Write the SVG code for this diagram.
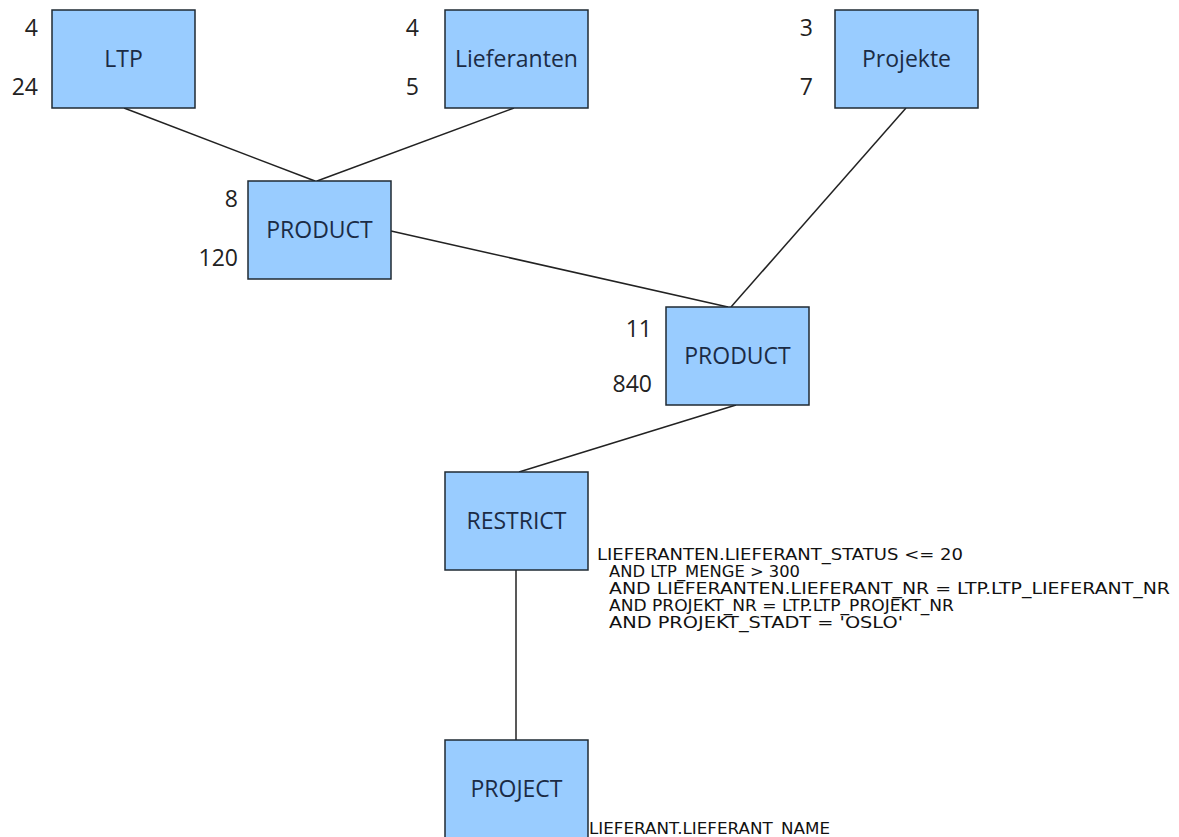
<svg xmlns="http://www.w3.org/2000/svg" width="1179" height="837" viewBox="0 0 1179 837">
<style>
.box{fill:#99ccff;stroke:#1f2a33;stroke-width:1.5}
.lbl{font-family:"Open Sans","DejaVu Sans",sans-serif;font-size:23px;fill:#1b2b45;text-anchor:middle}
.num{font-family:"Open Sans","DejaVu Sans",sans-serif;font-size:23px;fill:#222;text-anchor:end}
.cond{font-family:"DejaVu Sans","Open Sans",sans-serif;font-size:15px;fill:#111}
.edge{stroke:#222;stroke-width:1.5;fill:none}
</style>
<rect width="1179" height="837" fill="#fff"/>
<g id="connectors">
<line class="edge" x1="124" y1="108" x2="315" y2="181"/>
<line class="edge" x1="514" y1="108" x2="317" y2="181"/>
<line class="edge" x1="906" y1="108" x2="731" y2="307"/>
<line class="edge" x1="391" y1="231" x2="728" y2="307"/>
<line class="edge" x1="736" y1="405" x2="519" y2="472"/>
<line class="edge" x1="516" y1="570" x2="516" y2="740"/>
</g>
<g id="ltp">
<rect class="box" x="52" y="10" width="143" height="98"/>
<text class="lbl" x="123.5" y="67">LTP</text>
<text class="num" x="38" y="36">4</text>
<text class="num" x="38" y="95">24</text>
</g>
<g id="lieferanten">
<rect class="box" x="445" y="10" width="143" height="98"/>
<text class="lbl" x="516.5" y="67">Lieferanten</text>
<text class="num" x="419" y="36">4</text>
<text class="num" x="419" y="95">5</text>
</g>
<g id="projekte">
<rect class="box" x="835" y="10" width="143" height="98"/>
<text class="lbl" x="906.5" y="67">Projekte</text>
<text class="num" x="813" y="36">3</text>
<text class="num" x="813" y="95">7</text>
</g>
<g id="product1">
<rect class="box" x="248" y="181" width="143" height="98"/>
<text class="lbl" x="319.5" y="238">PRODUCT</text>
<text class="num" x="238" y="207">8</text>
<text class="num" x="238" y="266">120</text>
</g>
<g id="product2">
<rect class="box" x="666" y="307" width="143" height="98"/>
<text class="lbl" x="737.5" y="364">PRODUCT</text>
<text class="num" x="652" y="337">11</text>
<text class="num" x="652" y="392">840</text>
</g>
<g id="restrict">
<rect class="box" x="445" y="472" width="143" height="98"/>
<text class="lbl" x="516.5" y="529">RESTRICT</text>
<text class="cond" x="597" y="560" textLength="366" lengthAdjust="spacingAndGlyphs">LIEFERANTEN.LIEFERANT_STATUS &lt;= 20</text>
<text class="cond" x="609" y="577" textLength="191" lengthAdjust="spacingAndGlyphs">AND LTP_MENGE &gt; 300</text>
<text class="cond" x="609" y="594" textLength="561" lengthAdjust="spacingAndGlyphs">AND LIEFERANTEN.LIEFERANT_NR = LTP.LTP_LIEFERANT_NR</text>
<text class="cond" x="609" y="611" textLength="345" lengthAdjust="spacingAndGlyphs">AND PROJEKT_NR = LTP.LTP_PROJEKT_NR</text>
<text class="cond" x="609" y="628" textLength="294" lengthAdjust="spacingAndGlyphs">AND PROJEKT_STADT = 'OSLO'</text>
</g>
<g id="project">
<rect class="box" x="445" y="740" width="143" height="98"/>
<text class="lbl" x="516.5" y="797">PROJECT</text>
<text class="cond" x="589" y="834" textLength="241" lengthAdjust="spacingAndGlyphs">LIEFERANT.LIEFERANT_NAME</text>
</g>
</svg>
